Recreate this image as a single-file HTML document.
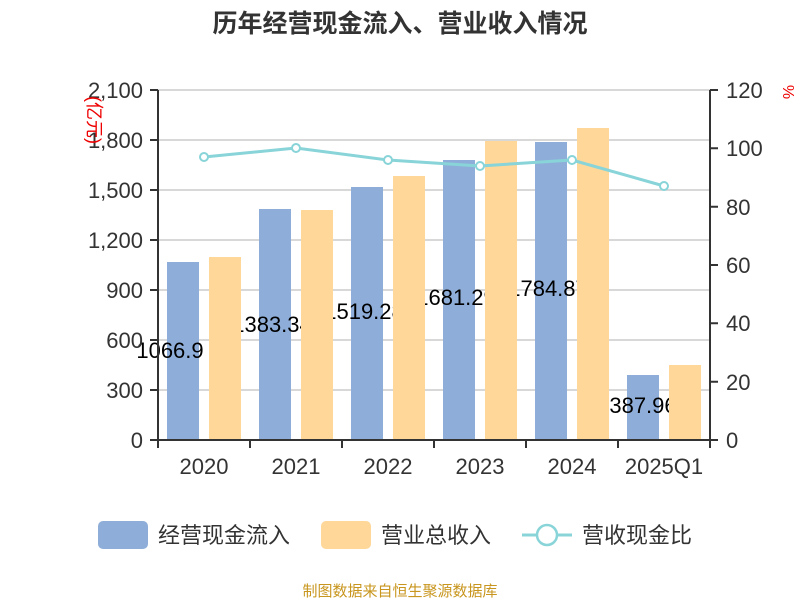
<!DOCTYPE html>
<html><head><meta charset="utf-8"><style>body{margin:0;background:#fff}svg{display:block}text{font-family:"Liberation Sans","Noto Sans CJK SC",sans-serif}</style></head>
<body>
<svg width="800" height="600" viewBox="0 0 800 600">
<text x="400" y="32" text-anchor="middle" font-size="25" font-weight="bold" fill="#333">历年经营现金流入、营业收入情况</text>
<g stroke="#ccc" stroke-width="1.5">
<line x1="158" x2="710" y1="90" y2="90"/><line x1="158" x2="710" y1="140" y2="140"/><line x1="158" x2="710" y1="190" y2="190"/><line x1="158" x2="710" y1="240" y2="240"/><line x1="158" x2="710" y1="290" y2="290"/><line x1="158" x2="710" y1="340" y2="340"/><line x1="158" x2="710" y1="390" y2="390"/>
</g>
<g fill="#8eaed9">
<rect x="167" y="262" width="32" height="178"/>
<rect x="259" y="209" width="32" height="231"/>
<rect x="351" y="187" width="32" height="253"/>
<rect x="443" y="160" width="32" height="280"/>
<rect x="535" y="142" width="32" height="298"/>
<rect x="627" y="375" width="32" height="65"/>
</g>
<g font-size="22" fill="#000" text-anchor="middle">
<text x="170" y="358">1066.9</text>
<text x="272" y="332">1383.34</text>
<text x="364" y="319">1519.28</text>
<text x="456" y="305">1681.29</text>
<text x="548" y="296">1784.87</text>
<text x="643" y="413">387.96</text>
</g>
<g fill="#fed799">
<rect x="209" y="257" width="32" height="183"/>
<rect x="301" y="210" width="32" height="230"/>
<rect x="393" y="176" width="32" height="264"/>
<rect x="485" y="141" width="32" height="299"/>
<rect x="577" y="128" width="32" height="312"/>
<rect x="669" y="365" width="32" height="75"/>
</g>
<polyline points="204,157 296,148 388,160 480,166 572,160 664,186" fill="none" stroke="#88d4d8" stroke-width="3"/>
<g fill="#fff" stroke="#88d4d8" stroke-width="2">
<circle cx="204" cy="157" r="4"/><circle cx="296" cy="148" r="4"/><circle cx="388" cy="160" r="4"/><circle cx="480" cy="166" r="4"/><circle cx="572" cy="160" r="4"/><circle cx="664" cy="186" r="4"/>
</g>
<g stroke="#333" stroke-width="2" fill="none">
<line x1="158" y1="90" x2="158" y2="441"/>
<line x1="710" y1="90" x2="710" y2="441"/>
<line x1="157" y1="440" x2="711" y2="440"/>
<path d="M150 90h8M150 140h8M150 190h8M150 240h8M150 290h8M150 340h8M150 390h8M150 440h8"/>
<path d="M710 90h8M710 148.3h8M710 206.7h8M710 265h8M710 323.3h8M710 381.7h8M710 440h8"/>
<path d="M158 440v8M250 440v8M342 440v8M434 440v8M526 440v8M618 440v8M710 440v8"/>
</g>
<g font-size="22" fill="#333" text-anchor="end">
<text x="143" y="98">2,100</text><text x="143" y="148">1,800</text><text x="143" y="198">1,500</text><text x="143" y="248">1,200</text><text x="143" y="298">900</text><text x="143" y="348">600</text><text x="143" y="398">300</text><text x="143" y="448">0</text>
</g>
<g font-size="22" fill="#333" text-anchor="start">
<text x="726" y="98">120</text><text x="726" y="156">100</text><text x="726" y="215">80</text><text x="726" y="273">60</text><text x="726" y="331">40</text><text x="726" y="390">20</text><text x="726" y="448">0</text>
</g>
<g font-size="22" fill="#333" text-anchor="middle">
<text x="204" y="474">2020</text><text x="296" y="474">2021</text><text x="388" y="474">2022</text><text x="480" y="474">2023</text><text x="572" y="474">2024</text><text x="664" y="474">2025Q1</text>
</g>
<text transform="translate(94,120) rotate(90)" font-size="18" fill="#e00" text-anchor="middle" dy="6">(亿元)</text>
<text transform="translate(788,92) rotate(90)" font-size="16" fill="#e00" text-anchor="middle" dy="5">%</text>
<rect x="98" y="521" width="50" height="28" rx="5" fill="#8eaed9"/>
<text x="158" y="543" font-size="22" fill="#333">经营现金流入</text>
<rect x="321" y="521" width="50" height="28" rx="5" fill="#fed799"/>
<text x="381" y="543" font-size="22" fill="#333">营业总收入</text>
<line x1="522" y1="535" x2="572" y2="535" stroke="#88d4d8" stroke-width="3"/>
<circle cx="547" cy="535" r="10" fill="#fff" stroke="#88d4d8" stroke-width="2.5"/>
<text x="582" y="543" font-size="22" fill="#333">营收现金比</text>
<text x="400" y="596" text-anchor="middle" font-size="15" fill="#c8961e">制图数据来自恒生聚源数据库</text>
</svg>
</body></html>
